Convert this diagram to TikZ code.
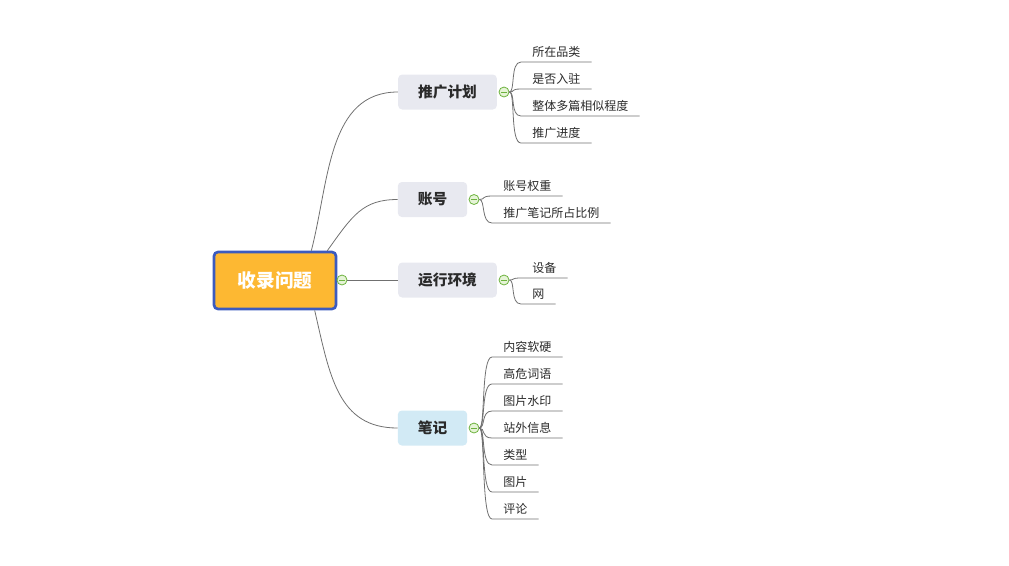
\documentclass[tikz,border=0pt]{standalone}
\usepackage{fontspec}
\setmainfont{Noto Sans CJK SC}
\usepackage{xcolor}
\usepackage{tikz}
\usetikzlibrary{positioning}
\definecolor{RootOrange}{HTML}{FDB832}
\definecolor{RootBlue}{HTML}{3C5BBE}
\definecolor{TopicGray}{HTML}{E8E9F0}
\definecolor{TopicBlue}{HTML}{D2EAF5}
\definecolor{FoldGreen}{HTML}{6DB33F}
\definecolor{FoldFill}{HTML}{E6F4D7}
\definecolor{LineGray}{HTML}{707070}
\definecolor{TextDark}{HTML}{2A2A2A}
\tikzset{
  topic/.style={fill=TopicGray, rounded corners=3pt, minimum height=26.25pt,
    inner xsep=15pt, font=\fontsize{11}{13}\selectfont\bfseries, text=TextDark},
  subtopic/.style={anchor=south west, inner xsep=8.25pt, inner ysep=2.8pt,
    text height=7.6pt, text depth=1.4pt, font=\fontsize{9}{11}\selectfont, text=TextDark},
  fold/.style={circle, draw=FoldGreen, fill=FoldFill, line width=0.6pt,
    minimum size=7.5pt, inner sep=0pt,
    path picture={\draw[FoldGreen, line width=0.6pt]
      ([xshift=-2.2pt]path picture bounding box.center) --
      ([xshift=2.2pt]path picture bounding box.center);}},
  link/.style={draw=LineGray, line width=0.6pt},
}

\begin{document}
\begin{tikzpicture}[x=0.75pt,y=-0.75pt]
  \useasboundingbox (0,0) rectangle (1009,565);

  \node[draw=RootBlue, line width=2pt, fill=RootOrange, rounded corners=3pt,
    minimum width=91.5pt, minimum height=42.75pt,
    font=\fontsize{14}{16}\selectfont\bfseries, text=white] (issue) at (275,280.5) {收录问题};

  \node[topic] (plan) at (447.5,92) {推广计划};
  \node[topic] (account) at (432.5,199.5) {账号};
  \node[topic] (env) at (447.5,280) {运行环境};
  \node[topic, fill=TopicBlue] (note) at (432.5,428) {笔记};

  \node[fold] (issue-fold) at (342,280) {};
  \node[fold] (plan-fold) at (504,92) {};
  \node[fold] (account-fold) at (474,199.5) {};
  \node[fold] (env-fold) at (504,280) {};
  \node[fold] (note-fold) at (474,428) {};

  % main branches
  \draw[link] ([xshift=-19.5pt]issue.north east) .. controls +(18,-70) and +(-70,0) .. (plan.west);
  \draw[link] ([xshift=-7.5pt]issue.north east) .. controls +(25,-35) and +(-35,0) .. (account.west);
  \draw[link] (issue-fold.east) -- (env.west);
  \draw[link] ([xshift=-17pt]issue.south east) .. controls +(15,65) and +(-60,0) .. (note.west);

  % sub topics
  \foreach \i/\y/\lab in {1/62/所在品类, 2/89/是否入驻, 3/116/整体多篇相似程度, 4/143/推广进度} {
      \node[subtopic] (plan-\i) at (521,\y) {\lab};
      \draw[link] (plan-fold.east) .. controls +(6,0) and +(-11,0) .. (plan-\i.south west)
        -- (plan-\i.south east);
    }

  \foreach \i/\y/\lab in {1/196/账号权重, 2/223/推广笔记所占比例} {
      \node[subtopic] (account-\i) at (492,\y) {\lab};
      \draw[link] (account-fold.east) .. controls +(6,0) and +(-11,0) .. (account-\i.south west)
        -- (account-\i.south east);
    }

  \foreach \i/\y/\lab in {1/278/设备, 2/304/网} {
      \node[subtopic] (env-\i) at (521,\y) {\lab};
      \draw[link] (env-fold.east) .. controls +(6,0) and +(-11,0) .. (env-\i.south west)
        -- (env-\i.south east);
    }

  \foreach \i/\y/\lab in {1/357/内容软硬, 2/384/高危词语, 3/411/图片水印, 4/438/站外信息,
      5/465/类型, 6/492/图片, 7/519/评论} {
      \node[subtopic] (note-\i) at (492,\y) {\lab};
      \draw[link] (note-fold.east) .. controls +(6,0) and +(-11,0) .. (note-\i.south west)
        -- (note-\i.south east);
    }
\end{tikzpicture}
\end{document}
